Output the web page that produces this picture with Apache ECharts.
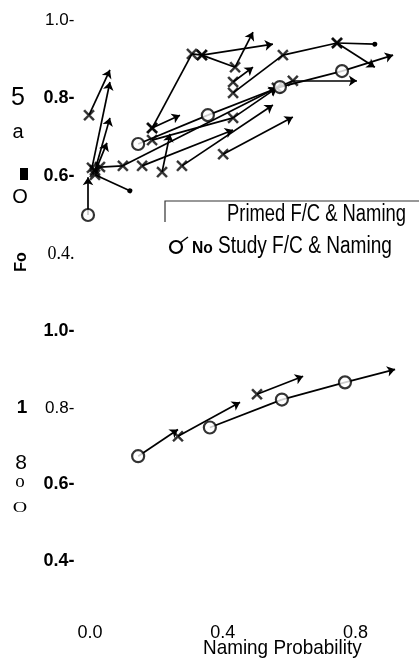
<!DOCTYPE html>
<html><head><meta charset="utf-8">
<script src="https://cdn.jsdelivr.net/npm/echarts@6/dist/echarts.min.js"></script>
<style>html,body{margin:0;padding:0;background:#fff}#c{width:419px;height:660px}</style>
</head><body><div id="c"></div>
<script>
// ---- data ----
const xTickValues = [0.0, 0.4, 0.8];
const yTickValues = [0.4, 0.6, 0.8, 1.0];
const xAxisTitle = 'Naming Probability';
const legendPrimed = 'Primed F/C & Naming';
const legendNoStudyA = 'No';
const legendNoStudyB = 'Study F/C & Naming';
const sideTextsTop = ['5', 'a', 'O', 'Fo'];
const sideTextsBottom = ['1', '8', 'o', 'O'];

// top panel: primed trajectories (x = naming prob, y = F/C) ending with an arrow
const topPrimedArrowPaths = [
  [[-0.003,0.756],[0.060,0.872]],
  [[0.006,0.621],[0.060,0.841]],
  [[0.015,0.615],[0.060,0.749]],
  [[0.015,0.610],[0.051,0.685]],
  [[0.030,0.623],[0.099,0.626],[0.563,0.826]],
  [[0.157,0.626],[0.431,0.718]],
  [[0.217,0.610],[0.241,0.708]],
  [[0.277,0.626],[0.551,0.782]],
  [[0.401,0.656],[0.611,0.751]],
  [[0.187,0.723],[0.271,0.756]],
  [[0.187,0.692],[0.431,0.749],[0.563,0.826]],
  [[0.187,0.723],[0.307,0.913],[0.337,0.910],[0.551,0.938]],
  [[0.337,0.910],[0.437,0.879],[0.491,0.969]],
  [[0.431,0.841],[0.491,0.879]],
  [[0.744,0.941],[0.858,0.879]],
  [[0.563,0.826],[0.611,0.844],[0.804,0.844]]
];
// top panel: primed trajectories ending with a dot
const topPrimedDotPaths = [
  [[0.015,0.603],[0.120,0.562]],
  [[0.431,0.813],[0.581,0.910],[0.744,0.941],[0.858,0.938]]
];
// top panel: no-study trajectories
const topNoStudyPaths = [
  [[-0.006,0.500],[-0.006,0.597]],
  [[0.145,0.682],[0.355,0.756],[0.572,0.828],[0.759,0.869],[0.913,0.910]]
];
// bottom panel
const bottomNoStudyPaths = [
  [[0.145,0.674],[0.265,0.744]],
  [[0.361,0.749],[0.578,0.822],[0.768,0.867],[0.919,0.901]]
];
const bottomPrimedArrowPaths = [
  [[0.265,0.726],[0.452,0.815]],
  [[0.503,0.836],[0.642,0.883]]
];

// ---- helpers ----
function innerSegs(paths){const r=[];paths.forEach(p=>{for(let i=0;i<p.length-2;i++)r.push({coords:[p[i],p[i+1]]});});return r;}
function lastSegs(paths){return paths.map(p=>({coords:[p[p.length-2],p[p.length-1]]}));}
function starts(paths){const r=[];paths.forEach(p=>{for(let i=0;i<p.length-1;i++)r.push(p[i]);});return r;}

const XPATH='path://M0,1.3L1.3,0L5,3.7L8.7,0L10,1.3L6.3,5L10,8.7L8.7,10L5,6.3L1.3,10L0,8.7L3.7,5Z';
const ls={color:'#000',width:1.7,opacity:1};

function panelSeries(g, arrowPaths, dotPaths, noStudyPaths){
  const allPrimed = arrowPaths.concat(dotPaths);
  return [
    {type:'lines',coordinateSystem:'cartesian2d',xAxisIndex:g,yAxisIndex:g,symbol:'none',lineStyle:ls,
     data:innerSegs(allPrimed.concat(noStudyPaths)),z:2,silent:true},
    {type:'lines',coordinateSystem:'cartesian2d',xAxisIndex:g,yAxisIndex:g,symbol:['none','arrow'],symbolSize:8,lineStyle:ls,
     data:lastSegs(arrowPaths.concat(noStudyPaths)),z:2,silent:true},
    {type:'lines',coordinateSystem:'cartesian2d',xAxisIndex:g,yAxisIndex:g,symbol:['none','circle'],symbolSize:5,lineStyle:ls,
     data:lastSegs(dotPaths),z:2,silent:true},
    {type:'scatter',xAxisIndex:g,yAxisIndex:g,symbol:XPATH,symbolSize:11,
     itemStyle:{color:'#000',borderColor:'#000',borderWidth:0.5},data:starts(allPrimed),z:4,silent:true},
    {type:'scatter',xAxisIndex:g,yAxisIndex:g,symbol:'circle',symbolSize:12,
     itemStyle:{color:'#fff',borderColor:'#000',borderWidth:2.2},data:starts(noStudyPaths),z:5,silent:true}
  ];
}

const FONT='"Liberation Sans", Arial, sans-serif';
const SERIF='"Liberation Serif", "Times New Roman", serif';
const richY={
  n:{fontSize:17,fontFamily:FONT,color:'#000'},
  b:{fontSize:18,fontFamily:FONT,fontWeight:'bold',color:'#000'},
  s:{fontSize:18,fontFamily:SERIF,color:'#000'}
};
function xAx(g,showLabels){
  return {gridIndex:g,type:'value',min:-0.05,max:0.95,axisLine:{show:false},axisTick:{show:false},splitLine:{show:false},
    axisLabel:{show:showLabels,customValues:xTickValues,margin:63,fontSize:18,fontFamily:FONT,color:'#000',
      formatter:v=>v.toFixed(1)}};
}
function yAx(g,fmt){
  return {gridIndex:g,type:'value',min:yTickValues[0],max:yTickValues[yTickValues.length-1],interval:0.2,
    axisLine:{show:false},axisTick:{show:false},splitLine:{show:false},
    axisLabel:{margin:-1,formatter:fmt,rich:richY}};
}
const fmtTop=v=>{const s=v.toFixed(1);if(Math.abs(v-1)<1e-6)return '{n|'+s+'-}';if(Math.abs(v-0.4)<1e-6)return '{s|'+s+'.}';return '{b|'+s+'-}';};
const fmtBot=v=>{const s=v.toFixed(1);if(Math.abs(v-0.8)<1e-6)return '{n|'+s+'-}';return '{b|'+s+'-}';};

function txt(x,y,text,opts){
  return Object.assign({type:'text',x:x,y:y,silent:true,style:Object.assign({text:text,fill:'#000',fontFamily:FONT,fontSize:18,align:'center',verticalAlign:'middle'},opts.style||{})},opts.el||{});
}

const chart=echarts.init(document.getElementById('c'),null,{renderer:'canvas'});
chart.setOption({
  animation:false,
  backgroundColor:'#fff',
  grid:[
    {left:73.4,width:332,top:20,height:234},
    {left:73.4,width:332,top:331.5,height:229.5}
  ],
  xAxis:[xAx(0,false),xAx(1,true)],
  yAxis:[yAx(0,fmtTop),yAx(1,fmtBot)],
  series:[].concat(
    panelSeries(0,topPrimedArrowPaths,topPrimedDotPaths,topNoStudyPaths),
    panelSeries(1,bottomPrimedArrowPaths,[],bottomNoStudyPaths)
  ),
  graphic:[
    // legend frame
    {type:'polyline',silent:true,shape:{points:[[165,222],[165,201],[419,201]]},style:{stroke:'#333',lineWidth:1.2,fill:null}},
    txt(227,215,legendPrimed,{style:{fontSize:23,align:'left'},el:{scaleX:0.8}}),
    {type:'circle',silent:true,shape:{cx:176,cy:247,r:6},style:{stroke:'#000',lineWidth:2.2,fill:'#fff'}},
    {type:'line',silent:true,shape:{x1:180,y1:243,x2:188,y2:237},style:{stroke:'#000',lineWidth:1.5}},
    txt(192,248,legendNoStudyA,{style:{fontSize:17,fontWeight:'bold',align:'left'},el:{scaleX:0.92}}),
    txt(218,247,legendNoStudyB,{style:{fontSize:23,align:'left'},el:{scaleX:0.83}}),
    // x axis title
    txt(203,648,xAxisTitle,{style:{fontSize:21,align:'left'},el:{scaleX:0.9}}),
    // garbled side texts, top panel
    txt(18,98,sideTextsTop[0],{style:{fontSize:25}}),
    txt(18,132,sideTextsTop[1],{style:{fontSize:20}}),
    {type:'rect',silent:true,shape:{x:20,y:168,width:8,height:12},style:{fill:'#000'}},
    txt(20,197,sideTextsTop[2],{style:{fontSize:20}}),
    txt(22,262,sideTextsTop[3],{style:{fontSize:16,fontWeight:'bold'},el:{rotation:Math.PI/2}}),
    // garbled side texts, bottom panel
    txt(22,408,sideTextsBottom[0],{style:{fontSize:19,fontWeight:'bold'}}),
    txt(21,463,sideTextsBottom[1],{style:{fontSize:21}}),
    txt(20,482,sideTextsBottom[2],{style:{fontSize:19,fontFamily:SERIF}}),
    txt(20,508,sideTextsBottom[3],{style:{fontSize:20,fontFamily:SERIF},el:{scaleY:0.75,y:508}})
  ]
});
</script></body></html>
